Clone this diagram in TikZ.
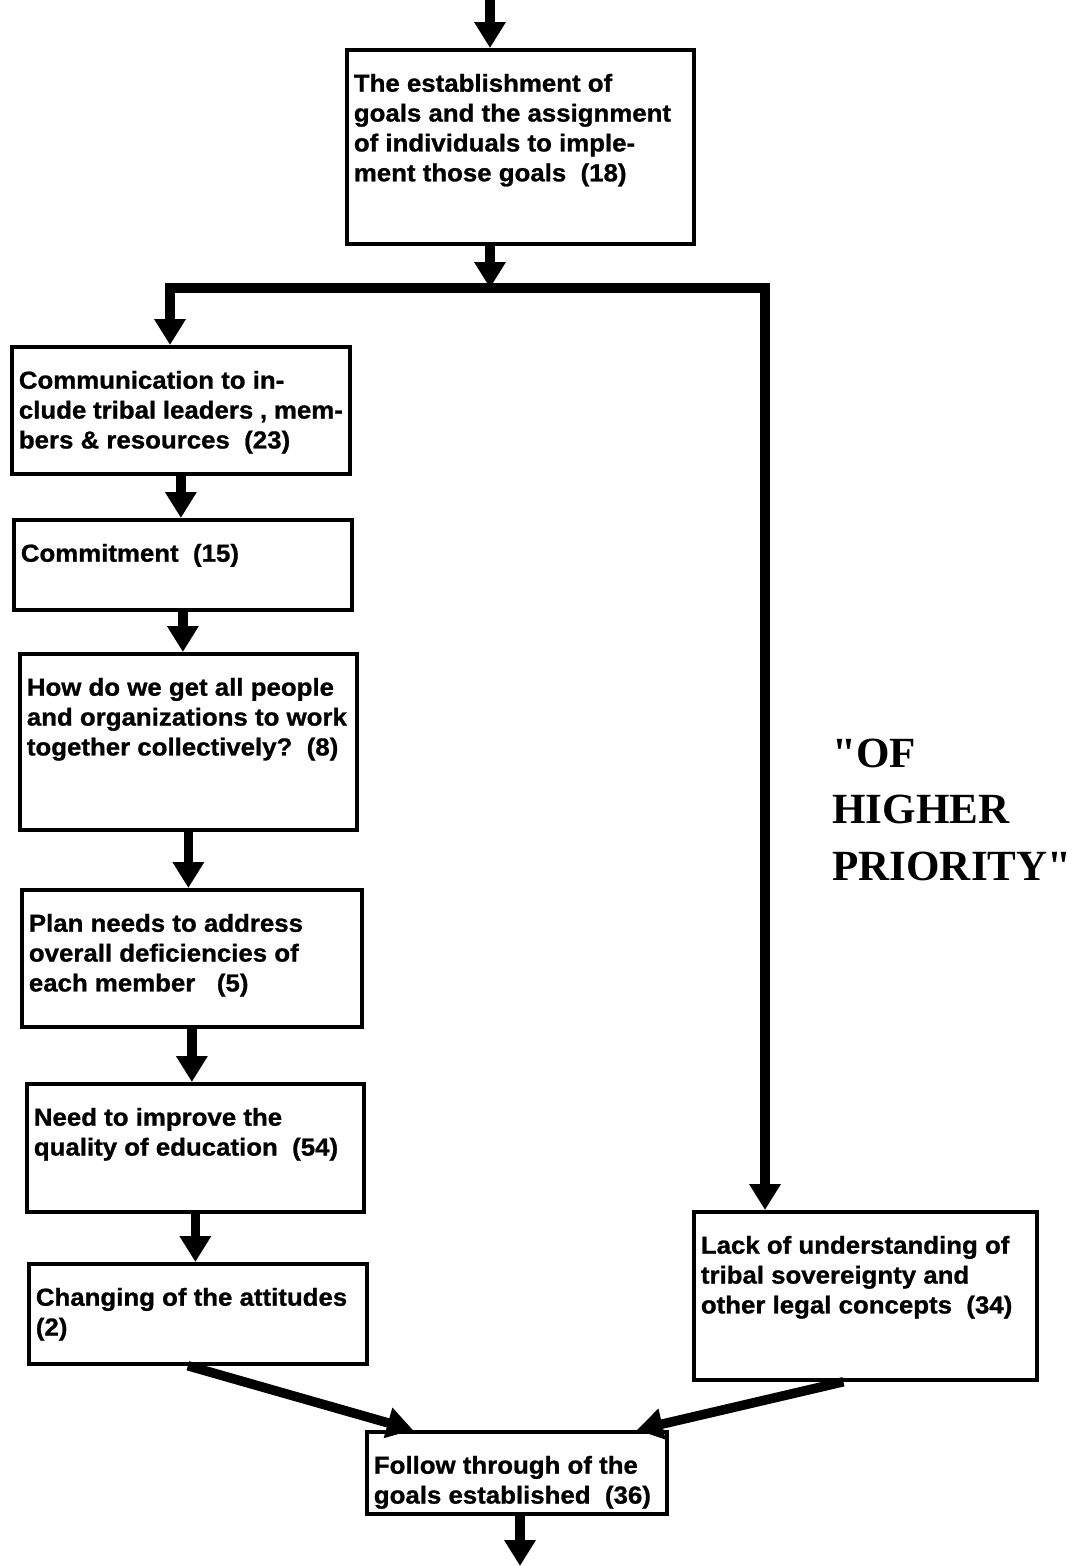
\documentclass[tikz,border=0pt]{standalone}
\usepackage{fontspec}
\setmainfont{Liberation Sans}[FakeStretch=1.05, BoldFeatures={FakeBold=1}]
\newfontfamily\priofont{Liberation Serif}
\usepackage{tikz}
\usetikzlibrary{positioning,arrows.meta,calc}
\newlength{\pxu}
\setlength{\pxu}{0.02cm}
% box text: width, height (in scan pixels), lines
\newcommand{\cardtext}[3]{\parbox[c][#2\pxu][t]{#1\pxu}{\raggedright\vspace*{24\pxu}#3}}

\begin{document}
\begin{tikzpicture}[x=0.02cm, y=-0.02cm,
    every node/.style={font=\fontsize{14pt}{17pt}\selectfont\bfseries},
    card/.style={draw, line width=0.075cm, anchor=north west, inner xsep=7\pxu, inner ysep=0pt},
    flow/.style={line width=0.19cm, line join=miter, -{Triangle[width=0.6cm,length=0.52cm]}}]
  \useasboundingbox (0,0) rectangle (1078,1566);

  \node[card] (goals) at (345,48) {\cardtext{333}{194}{The establishment of\\goals and the assignment\\of individuals to imple-\\ment those goals~~(18)}};

  % left column
  \node[card] (comm) at (10,345) {\cardtext{324}{127}{Communication to in-\\clude tribal leaders , mem-\\bers \& resources~~(23)}};
  \node[card] (commit) at (12,518) {\cardtext{324}{90}{Commitment~~(15)}};
  \node[card] (howdo) at (18,652) {\cardtext{323}{176}{How do we get all people\\and organizations to work\\together collectively?~~(8)}};
  \node[card] (plan) at (20,888) {\cardtext{326}{137}{Plan needs to address\\overall deficiencies of\\each member~~~(5)}};
  \node[card] (improve) at (25,1082) {\cardtext{323}{128}{Need to improve the\\quality of education~~(54)}};
  \node[card] (attitudes) at (27,1262) {\cardtext{324}{100}{Changing of the attitudes\\(2)}};

  % right column
  \node[card] (lack) at (692,1210) {\cardtext{329}{168}{Lack of understanding of\\tribal sovereignty and\\other legal concepts~~(34)}};
  \node[anchor=base west, align=left, inner sep=0pt, font=\priofont\fontsize{24.5pt}{32pt}\selectfont\bfseries] (prio) at (832,880) {"OF\\HIGHER\\PRIORITY"};

  \node[card] (follow) at (365,1430) {\cardtext{286}{82}{Follow through of the\\goals established~~(36)}};

  \coordinate (in) at (490,0);
  \coordinate (split) at (490,288);
  \coordinate (lcorner) at (170,288);
  \coordinate (rcorner) at (765,288);
  \coordinate (out) at (520,1566);

  \draw[flow] (in) -- (in |- goals.north);
  \draw[flow] (goals.south -| split) -- (split);
  \draw[flow] (split) -- (lcorner) -- (lcorner |- comm.north);
  \draw[flow] (split) -- (rcorner) -- (rcorner |- lack.north);
  \foreach \s/\t in {comm/commit,commit/howdo,howdo/plan,plan/improve,improve/attitudes}
    \draw[flow] (\s.south) -- (\s.south |- \t.north);
  \draw[flow] ($(attitudes.south)+(-10,0)$) -- ($(follow.north west)+(48,0)$);
  \draw[flow] ($(lack.south)+(-22,0)$) -- ($(follow.north east)+(-32,0)$);
  \draw[flow] (follow.south -| out) -- (out);
\end{tikzpicture}
\end{document}
